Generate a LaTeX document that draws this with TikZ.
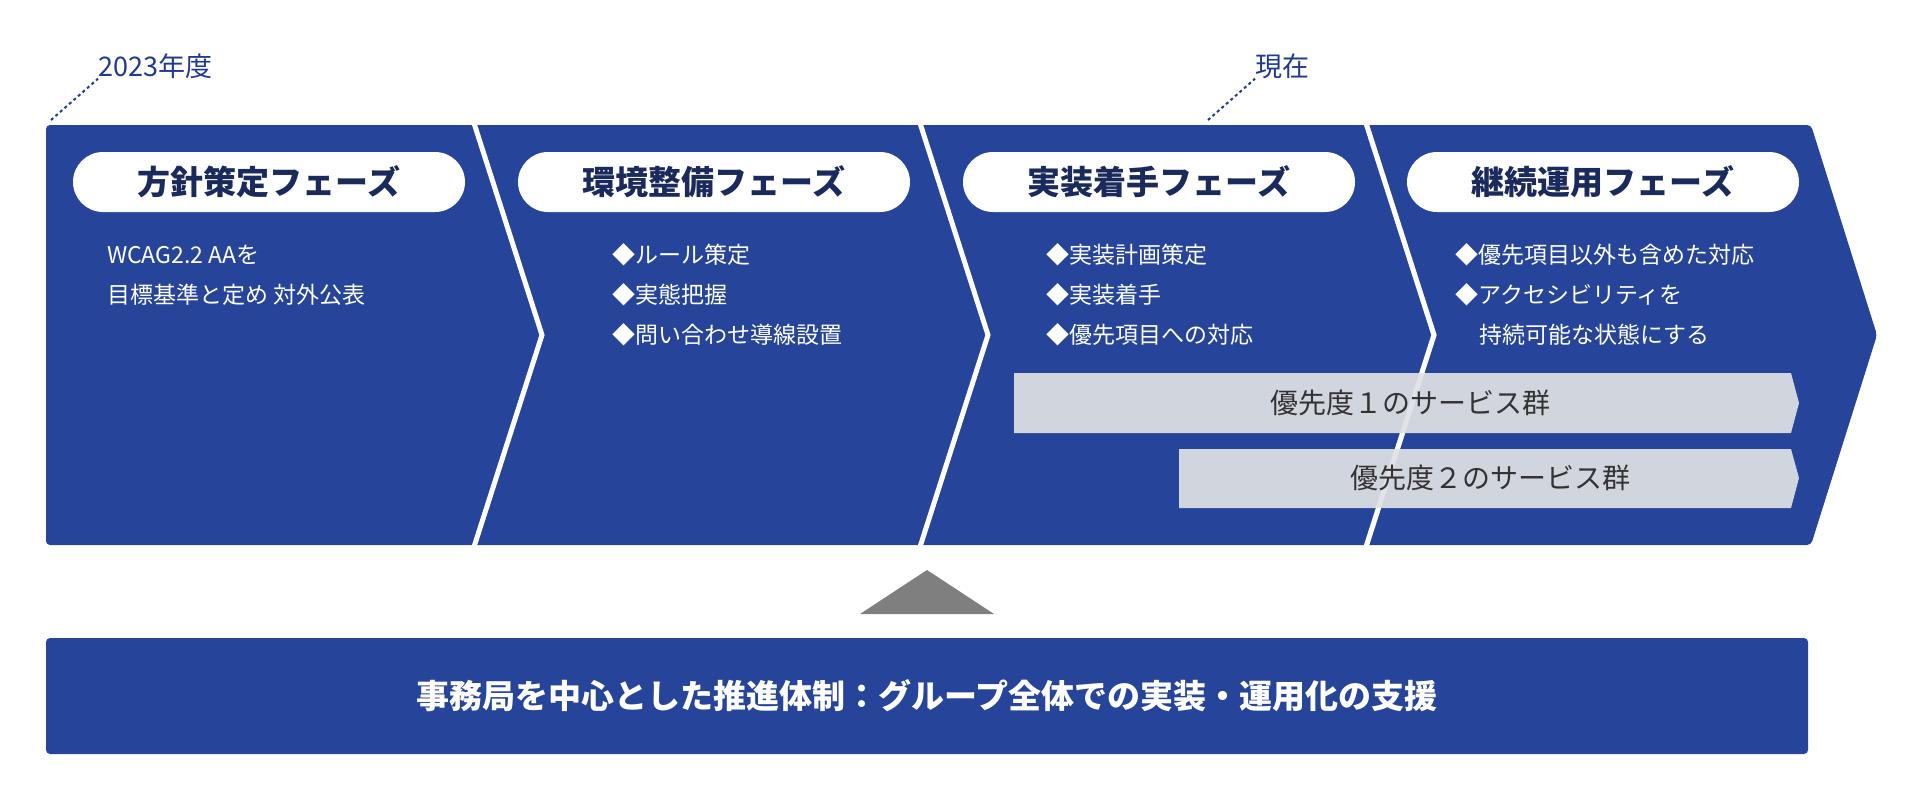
\documentclass[tikz,border=0pt]{standalone}
\usepackage{fontspec}
\setmainfont{Noto Sans CJK JP}
\begin{document}
\begin{tikzpicture}[x=1pt,y=-1pt,
  band/.style={fill=bandblue},
  sep/.style={draw=white,line width=5pt},
  pill/.style={fill=white,rounded corners=30pt,minimum width=392pt,minimum height=60pt,inner sep=0pt,font=\fontsize{33}{33}\selectfont\bfseries,text=navy},
  body/.style={anchor=west,inner sep=0pt,text=white,font=\fontsize{23}{23}\selectfont},
  bar/.style={fill=bargray},
  bartxt/.style={inner sep=0pt,text=txtgray,font=\fontsize{28}{28}\selectfont},
  lbl/.style={inner sep=0pt,text=lblblue,font=\fontsize{27}{27}\selectfont},
  dots/.style={draw=lblblue,line width=2pt,dash pattern=on 3pt off 3pt}]
\definecolor{bandblue}{HTML}{25449A}
\definecolor{navy}{HTML}{1B2A5C}
\definecolor{bargray}{HTML}{D1D5DE}
\definecolor{txtgray}{HTML}{333333}
\definecolor{lblblue}{HTML}{1F3A8F}
\definecolor{trigray}{HTML}{7F7F7F}
\useasboundingbox (0,0) rectangle (1920,800);
% band
\fill[band,rounded corners=4pt] (46,125) -- (1811,125) -- (1877,335) -- (1811,545) -- (46,545) -- cycle;
\foreach \x in {473,919,1365}{\draw[sep] (\x,120) -- (\x+69,335) -- (\x,550);}
% bars
\fill[bar] (1014,373) -- (1791,373) -- (1799,403) -- (1791,433) -- (1014,433) -- cycle;
\fill[bar] (1179,449) -- (1791,449) -- (1799,478) -- (1791,508) -- (1179,508) -- cycle;
\draw[sep,draw opacity=0.35] (1365,120) -- (1434,335) -- (1365,550);
\node[bartxt] (b1) at (1410,403) {優先度１のサービス群};
\node[bartxt] (b2) at (1490,478) {優先度２のサービス群};
% pills
\node[pill] (p1) at (269,182) {方針策定フェーズ};
\node[pill] (p2) at (714,182) {環境整備フェーズ};
\node[pill] (p3) at (1159,182) {実装着手フェーズ};
\node[pill] (p4) at (1603,182) {継続運用フェーズ};
% body
\node[body] (t11) at (107,255) {WCAG2.2 AAを};
\node[body] (t12) at (107,295) {目標基準と定め 対外公表};
\node[body] (t21) at (612,255) {◆ルール策定};
\node[body] (t22) at (612,295) {◆実態把握};
\node[body] (t23) at (612,335) {◆問い合わせ導線設置};
\node[body] (t31) at (1046,255) {◆実装計画策定};
\node[body] (t32) at (1046,295) {◆実装着手};
\node[body] (t33) at (1046,335) {◆優先項目への対応};
\node[body] (t41) at (1455,255) {◆優先項目以外も含めた対応};
\node[body] (t42) at (1455,295) {◆アクセシビリティを};
\node[body] (t43) at (1479,335) {持続可能な状態にする};
% labels
\node[lbl,anchor=west] (l1) at (98,66) {2023年度};
\node[lbl,anchor=west] (l2) at (1255,66) {現在};
\coordinate (c1) at (51,120);
\coordinate (c2) at (1208,120);
\draw[dots] (c1) -- (l1.south west);
\draw[dots] (c2) -- (l2.south west);
% triangle
\fill[trigray] (927,570) -- (994,614) -- (860,614) -- cycle;
% bottom bar
\node[fill=bandblue,rounded corners=4pt,minimum width=1762pt,minimum height=116pt,inner sep=0pt,text=white,font=\fontsize{33}{33}\selectfont\bfseries] (bb) at (927,696) {事務局を中心とした推進体制：グループ全体での実装・運用化の支援};
\end{tikzpicture}
\end{document}
